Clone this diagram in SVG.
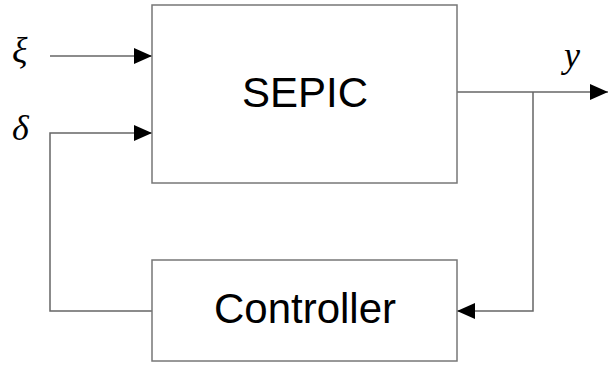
<svg xmlns="http://www.w3.org/2000/svg" width="616" height="366" viewBox="0 0 616 366">
<style>
.box{fill:#fff;stroke:#777;stroke-width:1.5}
.wire{fill:none;stroke:#666;stroke-width:1.5}
.lbl{font-family:"Liberation Sans",Arial,sans-serif;font-size:42px;fill:#000;text-anchor:middle}
.math{font-family:"Liberation Serif","Times New Roman",serif;font-style:italic;font-size:36px;fill:#000}
</style>
<defs>
<marker id="ah" viewBox="0 0 18 16" refX="18" refY="8" markerWidth="18" markerHeight="16" markerUnits="userSpaceOnUse" orient="auto">
<path d="M0,0 L18,8 L0,16 Z" fill="#000"/>
</marker>
</defs>
<rect width="616" height="366" fill="#fff"/>
<g id="connectors">
<line class="wire" x1="50" y1="56" x2="152" y2="56" marker-end="url(#ah)"/>
<polyline class="wire" points="152,311 50,311 50,133 152,133" marker-end="url(#ah)"/>
<line class="wire" x1="457" y1="92" x2="608" y2="92" marker-end="url(#ah)"/>
<polyline class="wire" points="533,92 533,311 457,311" marker-end="url(#ah)"/>
</g>
<g id="sepic">
<rect class="box" x="152" y="5" width="305" height="178"/>
<text class="lbl" x="305" y="107">SEPIC</text>
</g>
<g id="controller">
<rect class="box" x="152" y="260" width="305" height="101"/>
<text class="lbl" x="305" y="323">Controller</text>
</g>
<g id="labels">
<text class="math" x="12" y="62">ξ</text>
<text class="math" x="12" y="140">δ</text>
<text class="math" x="564" y="67">y</text>
</g>
</svg>
